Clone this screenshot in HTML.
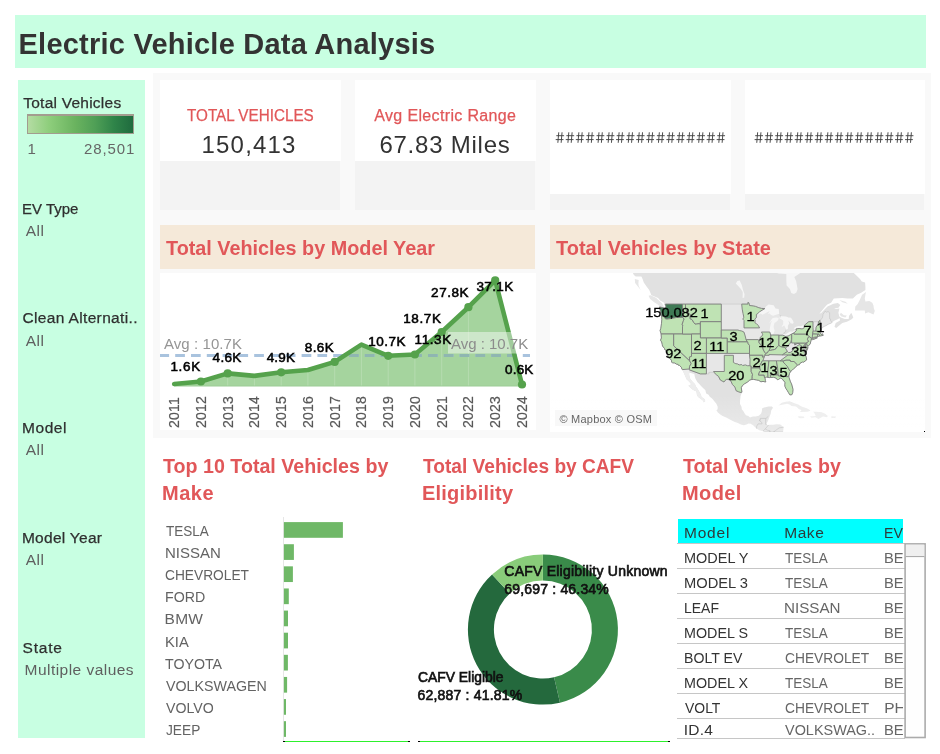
<!DOCTYPE html>
<html><head><meta charset="utf-8"><title>Electric Vehicle Data Analysis</title>
<style>
html,body{margin:0;padding:0;background:#fff;}
body{width:940px;height:754px;position:relative;overflow:hidden;font-family:"Liberation Sans",sans-serif;}
.t{position:absolute;white-space:pre;font-family:"Liberation Sans",sans-serif;}
.b{position:absolute;}
svg{position:absolute;overflow:hidden;}
svg text{font-family:"Liberation Sans",sans-serif;}
</style></head><body><div id="root" style="position:absolute;left:0;top:0;width:940px;height:754px;will-change:transform;">
<div class="b" style="left:15px;top:15px;width:911px;height:52.5px;background:#c8ffe2;"></div>
<div class="t" style="left:18.56px;top:30.00px;font-size:29px;line-height:29px;color:#333;font-weight:bold;letter-spacing:0.229px;">Electric Vehicle Data Analysis</div>
<div class="b" style="left:18px;top:80px;width:127px;height:658px;background:#c8ffe2;"></div>
<div class="t" style="left:23.25px;top:95.00px;font-size:15.5px;line-height:16px;color:#2f2f2f;letter-spacing:0.241px;-webkit-text-stroke:0.25px #2f2f2f;">Total Vehicles</div>
<div class="b" style="left:27px;top:114px;width:105px;height:17px;border:1px solid #a39c8f;border-top-width:2px;background:linear-gradient(90deg,#b4dca3 0%,#8ece7c 20%,#6ab35f 45%,#4f9f56 64%,#2f8449 82%,#1f6b3e 100%);"></div>
<div class="t" style="left:27.46px;top:141.00px;font-size:15px;line-height:15px;color:#666;">1</div>
<div class="t" style="left:83.95px;top:141.00px;font-size:15px;line-height:15px;color:#666;letter-spacing:0.882px;">28,501</div>
<div class="t" style="left:21.97px;top:201.00px;font-size:15.5px;line-height:16px;color:#2f2f2f;-webkit-text-stroke:0.25px #2f2f2f;transform:scaleX(0.9672);transform-origin:0 0;">EV Type</div>
<div class="t" style="left:25.77px;top:223.00px;font-size:15.5px;line-height:16px;color:#5f5f5f;letter-spacing:0.421px;">All</div>
<div class="t" style="left:22.41px;top:310.00px;font-size:15.5px;line-height:16px;color:#2f2f2f;letter-spacing:0.355px;-webkit-text-stroke:0.25px #2f2f2f;">Clean Alternati..</div>
<div class="t" style="left:25.77px;top:333.00px;font-size:15.5px;line-height:16px;color:#5f5f5f;letter-spacing:0.421px;">All</div>
<div class="t" style="left:21.93px;top:420.00px;font-size:15.5px;line-height:16px;color:#2f2f2f;letter-spacing:0.598px;-webkit-text-stroke:0.25px #2f2f2f;">Model</div>
<div class="t" style="left:25.77px;top:442.00px;font-size:15.5px;line-height:16px;color:#5f5f5f;letter-spacing:0.421px;">All</div>
<div class="t" style="left:21.93px;top:530.00px;font-size:15.5px;line-height:16px;color:#2f2f2f;letter-spacing:0.274px;-webkit-text-stroke:0.25px #2f2f2f;">Model Year</div>
<div class="t" style="left:25.77px;top:552.00px;font-size:15.5px;line-height:16px;color:#5f5f5f;letter-spacing:0.421px;">All</div>
<div class="t" style="left:22.50px;top:640.00px;font-size:15.5px;line-height:16px;color:#2f2f2f;letter-spacing:0.800px;-webkit-text-stroke:0.25px #2f2f2f;">State</div>
<div class="t" style="left:24.53px;top:662.00px;font-size:15.5px;line-height:16px;color:#5f5f5f;letter-spacing:0.465px;">Multiple values</div>
<div class="b" style="left:153px;top:73px;width:778px;height:365px;background:#f9f9f9;"></div>
<div class="b" style="left:160px;top:80px;width:181px;height:81px;background:#fff;"></div>
<div class="b" style="left:160px;top:161px;width:180px;height:49px;background:#f3f3f3;"></div>
<div class="b" style="left:355px;top:80px;width:181px;height:81px;background:#fff;"></div>
<div class="b" style="left:355px;top:161px;width:180px;height:49px;background:#f3f3f3;"></div>
<div class="b" style="left:550px;top:80px;width:181px;height:114px;background:#fff;"></div>
<div class="b" style="left:550px;top:194px;width:180px;height:16px;background:#f3f3f3;"></div>
<div class="b" style="left:745px;top:80px;width:180px;height:114px;background:#fff;"></div>
<div class="b" style="left:745px;top:194px;width:179px;height:16px;background:#f3f3f3;"></div>
<div class="t" style="left:186.86px;top:108.00px;font-size:16px;line-height:16px;color:#e15759;-webkit-text-stroke:0.25px #e15759;transform:scaleX(0.9524);transform-origin:0 0;">TOTAL VEHICLES</div>
<div class="t" style="left:201.47px;top:133.00px;font-size:24px;line-height:24px;color:#333;letter-spacing:1.205px;">150,413</div>
<div class="t" style="left:374.27px;top:108.00px;font-size:16px;line-height:16px;color:#e15759;letter-spacing:0.351px;-webkit-text-stroke:0.25px #e15759;">Avg Electric Range</div>
<div class="t" style="left:379.38px;top:133.00px;font-size:24px;line-height:24px;color:#333;letter-spacing:0.765px;">67.83 Miles</div>
<svg style="left:550px;top:128px" width="376" height="20" viewBox="550 128 376 20"><g stroke="#444" stroke-width="0.95" fill="none"><path d="M558.75 132.3L557.85 142.8M562.05 132.3L561.15 142.8M556.30 135.7H564.10M555.70 139.6H563.50"/><path d="M568.81 132.3L567.91 142.8M572.11 132.3L571.21 142.8M566.36 135.7H574.16M565.76 139.6H573.56"/><path d="M578.87 132.3L577.97 142.8M582.17 132.3L581.27 142.8M576.42 135.7H584.22M575.82 139.6H583.62"/><path d="M588.93 132.3L588.03 142.8M592.23 132.3L591.33 142.8M586.48 135.7H594.28M585.88 139.6H593.68"/><path d="M598.99 132.3L598.09 142.8M602.29 132.3L601.39 142.8M596.54 135.7H604.34M595.94 139.6H603.74"/><path d="M609.05 132.3L608.15 142.8M612.35 132.3L611.45 142.8M606.60 135.7H614.40M606.00 139.6H613.80"/><path d="M619.11 132.3L618.21 142.8M622.41 132.3L621.51 142.8M616.66 135.7H624.46M616.06 139.6H623.86"/><path d="M629.17 132.3L628.27 142.8M632.47 132.3L631.57 142.8M626.72 135.7H634.52M626.12 139.6H633.92"/><path d="M639.23 132.3L638.33 142.8M642.53 132.3L641.63 142.8M636.78 135.7H644.58M636.18 139.6H643.98"/><path d="M649.29 132.3L648.39 142.8M652.59 132.3L651.69 142.8M646.84 135.7H654.64M646.24 139.6H654.04"/><path d="M659.35 132.3L658.45 142.8M662.65 132.3L661.75 142.8M656.90 135.7H664.70M656.30 139.6H664.10"/><path d="M669.41 132.3L668.51 142.8M672.71 132.3L671.81 142.8M666.96 135.7H674.76M666.36 139.6H674.16"/><path d="M679.47 132.3L678.57 142.8M682.77 132.3L681.87 142.8M677.02 135.7H684.82M676.42 139.6H684.22"/><path d="M689.53 132.3L688.63 142.8M692.83 132.3L691.93 142.8M687.08 135.7H694.88M686.48 139.6H694.28"/><path d="M699.59 132.3L698.69 142.8M702.89 132.3L701.99 142.8M697.14 135.7H704.94M696.54 139.6H704.34"/><path d="M709.65 132.3L708.75 142.8M712.95 132.3L712.05 142.8M707.20 135.7H715.00M706.60 139.6H714.40"/><path d="M719.71 132.3L718.81 142.8M723.01 132.3L722.11 142.8M717.26 135.7H725.06M716.66 139.6H724.46"/></g></svg>
<svg style="left:550px;top:128px" width="376" height="20" viewBox="550 128 376 20"><g stroke="#444" stroke-width="0.95" fill="none"><path d="M757.65 132.3L756.75 142.8M760.95 132.3L760.05 142.8M755.20 135.7H763.00M754.60 139.6H762.40"/><path d="M767.68 132.3L766.78 142.8M770.98 132.3L770.08 142.8M765.23 135.7H773.03M764.63 139.6H772.43"/><path d="M777.71 132.3L776.81 142.8M781.01 132.3L780.11 142.8M775.26 135.7H783.06M774.66 139.6H782.46"/><path d="M787.74 132.3L786.84 142.8M791.04 132.3L790.14 142.8M785.29 135.7H793.09M784.69 139.6H792.49"/><path d="M797.77 132.3L796.87 142.8M801.07 132.3L800.17 142.8M795.32 135.7H803.12M794.72 139.6H802.52"/><path d="M807.80 132.3L806.90 142.8M811.10 132.3L810.20 142.8M805.35 135.7H813.15M804.75 139.6H812.55"/><path d="M817.83 132.3L816.93 142.8M821.13 132.3L820.23 142.8M815.38 135.7H823.18M814.78 139.6H822.58"/><path d="M827.86 132.3L826.96 142.8M831.16 132.3L830.26 142.8M825.41 135.7H833.21M824.81 139.6H832.61"/><path d="M837.89 132.3L836.99 142.8M841.19 132.3L840.29 142.8M835.44 135.7H843.24M834.84 139.6H842.64"/><path d="M847.92 132.3L847.02 142.8M851.22 132.3L850.32 142.8M845.47 135.7H853.27M844.87 139.6H852.67"/><path d="M857.95 132.3L857.05 142.8M861.25 132.3L860.35 142.8M855.50 135.7H863.30M854.90 139.6H862.70"/><path d="M867.98 132.3L867.08 142.8M871.28 132.3L870.38 142.8M865.53 135.7H873.33M864.93 139.6H872.73"/><path d="M878.01 132.3L877.11 142.8M881.31 132.3L880.41 142.8M875.56 135.7H883.36M874.96 139.6H882.76"/><path d="M888.04 132.3L887.14 142.8M891.34 132.3L890.44 142.8M885.59 135.7H893.39M884.99 139.6H892.79"/><path d="M898.07 132.3L897.17 142.8M901.37 132.3L900.47 142.8M895.62 135.7H903.42M895.02 139.6H902.82"/><path d="M908.10 132.3L907.20 142.8M911.40 132.3L910.50 142.8M905.65 135.7H913.45M905.05 139.6H912.85"/></g></svg>
<div class="b" style="left:160px;top:225px;width:375px;height:44px;background:#f5e9d9;"></div>
<div class="b" style="left:550px;top:225px;width:374px;height:44px;background:#f5e9d9;"></div>
<div class="t" style="left:165.58px;top:238.00px;font-size:20px;line-height:20px;color:#e15759;font-weight:bold;transform:scaleX(0.9902);transform-origin:0 0;">Total Vehicles by Model Year</div>
<div class="t" style="left:555.58px;top:238.00px;font-size:20px;line-height:20px;color:#e15759;font-weight:bold;transform:scaleX(0.9983);transform-origin:0 0;">Total Vehicles by State</div>
<div class="b" style="left:160px;top:273px;width:375.5px;height:157px;background:#fff;"></div>
<svg style="left:160px;top:273px" width="375.5" height="157" viewBox="160 273 375.5 157">
<polygon points="174.2,384.0 200.9,381.5 227.7,373.4 254.4,375.9 281.2,372.3 307.9,370.0 334.7,361.9 361.4,344.6 388.2,355.8 414.9,354.5 441.7,332.0 468.4,307.2 495.2,280.3 522.0,384.5 522.0,386.0 174.2,386.0" fill="#a5d49e"/>
<line x1="200.9" y1="274" x2="200.9" y2="386.0" stroke="#fff" stroke-opacity="0.28" stroke-width="0.7"/>
<line x1="227.7" y1="274" x2="227.7" y2="386.0" stroke="#fff" stroke-opacity="0.28" stroke-width="0.7"/>
<line x1="254.4" y1="274" x2="254.4" y2="386.0" stroke="#fff" stroke-opacity="0.28" stroke-width="0.7"/>
<line x1="281.2" y1="274" x2="281.2" y2="386.0" stroke="#fff" stroke-opacity="0.28" stroke-width="0.7"/>
<line x1="307.9" y1="274" x2="307.9" y2="386.0" stroke="#fff" stroke-opacity="0.28" stroke-width="0.7"/>
<line x1="334.7" y1="274" x2="334.7" y2="386.0" stroke="#fff" stroke-opacity="0.28" stroke-width="0.7"/>
<line x1="361.4" y1="274" x2="361.4" y2="386.0" stroke="#fff" stroke-opacity="0.28" stroke-width="0.7"/>
<line x1="388.2" y1="274" x2="388.2" y2="386.0" stroke="#fff" stroke-opacity="0.28" stroke-width="0.7"/>
<line x1="414.9" y1="274" x2="414.9" y2="386.0" stroke="#fff" stroke-opacity="0.28" stroke-width="0.7"/>
<line x1="441.7" y1="274" x2="441.7" y2="386.0" stroke="#fff" stroke-opacity="0.28" stroke-width="0.7"/>
<line x1="468.4" y1="274" x2="468.4" y2="386.0" stroke="#fff" stroke-opacity="0.28" stroke-width="0.7"/>
<line x1="160" y1="355.4" x2="530" y2="355.4" stroke="#a9c3de" stroke-width="3" stroke-dasharray="9.7,6.1" stroke-dashoffset="0.6"/>
<clipPath id="ac"><polygon points="174.2,384.0 200.9,381.5 227.7,373.4 254.4,375.9 281.2,372.3 307.9,370.0 334.7,361.9 361.4,344.6 388.2,355.8 414.9,354.5 441.7,332.0 468.4,307.2 495.2,280.3 522.0,384.5 522.0,386.0 174.2,386.0"/></clipPath>
<line clip-path="url(#ac)" x1="160" y1="355.4" x2="530" y2="355.4" stroke="#8fb6b1" stroke-width="3" stroke-dasharray="9.7,6.1" stroke-dashoffset="0.6"/>
<line x1="174.2" y1="386.0" x2="522.0" y2="386.0" stroke="#9ccc96" stroke-width="1"/>
<polyline points="174.2,384.0 200.9,381.5 227.7,373.4 254.4,375.9 281.2,372.3 307.9,370.0 334.7,361.9 361.4,344.6 388.2,355.8 414.9,354.5 441.7,332.0 468.4,307.2 495.2,280.3 522.0,384.5" fill="none" stroke="#55a24c" stroke-width="4.6" stroke-linejoin="round" stroke-linecap="round"/>
<circle cx="200.9" cy="381.5" r="4.1" fill="#55a24c"/>
<circle cx="227.7" cy="373.4" r="4.1" fill="#55a24c"/>
<circle cx="281.2" cy="372.3" r="4.1" fill="#55a24c"/>
<circle cx="334.7" cy="361.9" r="4.1" fill="#55a24c"/>
<circle cx="388.2" cy="355.8" r="4.1" fill="#55a24c"/>
<circle cx="414.9" cy="354.5" r="4.1" fill="#55a24c"/>
<circle cx="441.7" cy="332.0" r="4.1" fill="#55a24c"/>
<circle cx="468.4" cy="307.2" r="4.1" fill="#55a24c"/>
<circle cx="495.2" cy="280.3" r="4.1" fill="#55a24c"/>
<circle cx="522.0" cy="384.5" r="4.1" fill="#55a24c"/>
<rect x="448" y="332" width="82" height="21.5" fill="#fff" fill-opacity="0.45"/>
</svg>
<div class="t" style="left:163.97px;top:336.00px;font-size:15px;line-height:15px;color:#959595;letter-spacing:0.072px;">Avg : 10.7K</div>
<div class="t" style="left:450.97px;top:336.00px;font-size:15px;line-height:15px;color:#8c8c8c;transform:scaleX(0.9990);transform-origin:0 0;">Avg : 10.7K</div>
<div class="t" style="left:170.47px;top:360.00px;font-size:13.5px;line-height:14px;color:#000;letter-spacing:0.636px;-webkit-text-stroke:0.55px #000;">1.6K</div>
<div class="t" style="left:212.59px;top:351.00px;font-size:13.5px;line-height:14px;color:#000;letter-spacing:0.297px;-webkit-text-stroke:0.55px #000;">4.6K</div>
<div class="t" style="left:266.69px;top:351.00px;font-size:13.5px;line-height:14px;color:#000;letter-spacing:0.163px;-webkit-text-stroke:0.55px #000;">4.9K</div>
<div class="t" style="left:304.81px;top:341.00px;font-size:13.5px;line-height:14px;color:#000;letter-spacing:0.356px;-webkit-text-stroke:0.55px #000;">8.6K</div>
<div class="t" style="left:368.27px;top:335.00px;font-size:13.5px;line-height:14px;color:#000;letter-spacing:0.500px;-webkit-text-stroke:0.55px #000;">10.7K</div>
<div class="t" style="left:414.57px;top:333.00px;font-size:13.5px;line-height:14px;color:#000;letter-spacing:0.576px;-webkit-text-stroke:0.55px #000;">11.3K</div>
<div class="t" style="left:403.27px;top:312.00px;font-size:13.5px;line-height:14px;color:#000;letter-spacing:0.600px;-webkit-text-stroke:0.55px #000;">18.7K</div>
<div class="t" style="left:431.12px;top:286.00px;font-size:13.5px;line-height:14px;color:#000;letter-spacing:0.513px;-webkit-text-stroke:0.55px #000;">27.8K</div>
<div class="t" style="left:476.39px;top:280.00px;font-size:13.5px;line-height:14px;color:#000;letter-spacing:0.372px;-webkit-text-stroke:0.55px #000;">37.1K</div>
<div class="t" style="left:504.97px;top:363.00px;font-size:13.5px;line-height:14px;color:#000;letter-spacing:0.203px;-webkit-text-stroke:0.55px #000;">0.6K</div>
<div class="t" style="left:167.2px;top:428.2px;font-size:14px;line-height:14px;color:#585858;-webkit-text-stroke:0.2px #585858;transform-origin:0 0;transform:rotate(-90deg);letter-spacing:0.25px;">2011</div>
<div class="t" style="left:193.9px;top:428.2px;font-size:14px;line-height:14px;color:#585858;-webkit-text-stroke:0.2px #585858;transform-origin:0 0;transform:rotate(-90deg);letter-spacing:0.25px;">2012</div>
<div class="t" style="left:220.7px;top:428.2px;font-size:14px;line-height:14px;color:#585858;-webkit-text-stroke:0.2px #585858;transform-origin:0 0;transform:rotate(-90deg);letter-spacing:0.25px;">2013</div>
<div class="t" style="left:247.4px;top:428.2px;font-size:14px;line-height:14px;color:#585858;-webkit-text-stroke:0.2px #585858;transform-origin:0 0;transform:rotate(-90deg);letter-spacing:0.25px;">2014</div>
<div class="t" style="left:274.2px;top:428.2px;font-size:14px;line-height:14px;color:#585858;-webkit-text-stroke:0.2px #585858;transform-origin:0 0;transform:rotate(-90deg);letter-spacing:0.25px;">2015</div>
<div class="t" style="left:300.9px;top:428.2px;font-size:14px;line-height:14px;color:#585858;-webkit-text-stroke:0.2px #585858;transform-origin:0 0;transform:rotate(-90deg);letter-spacing:0.25px;">2016</div>
<div class="t" style="left:327.7px;top:428.2px;font-size:14px;line-height:14px;color:#585858;-webkit-text-stroke:0.2px #585858;transform-origin:0 0;transform:rotate(-90deg);letter-spacing:0.25px;">2017</div>
<div class="t" style="left:354.4px;top:428.2px;font-size:14px;line-height:14px;color:#585858;-webkit-text-stroke:0.2px #585858;transform-origin:0 0;transform:rotate(-90deg);letter-spacing:0.25px;">2018</div>
<div class="t" style="left:381.2px;top:428.2px;font-size:14px;line-height:14px;color:#585858;-webkit-text-stroke:0.2px #585858;transform-origin:0 0;transform:rotate(-90deg);letter-spacing:0.25px;">2019</div>
<div class="t" style="left:407.9px;top:428.2px;font-size:14px;line-height:14px;color:#585858;-webkit-text-stroke:0.2px #585858;transform-origin:0 0;transform:rotate(-90deg);letter-spacing:0.25px;">2020</div>
<div class="t" style="left:434.7px;top:428.2px;font-size:14px;line-height:14px;color:#585858;-webkit-text-stroke:0.2px #585858;transform-origin:0 0;transform:rotate(-90deg);letter-spacing:0.25px;">2021</div>
<div class="t" style="left:461.4px;top:428.2px;font-size:14px;line-height:14px;color:#585858;-webkit-text-stroke:0.2px #585858;transform-origin:0 0;transform:rotate(-90deg);letter-spacing:0.25px;">2022</div>
<div class="t" style="left:488.2px;top:428.2px;font-size:14px;line-height:14px;color:#585858;-webkit-text-stroke:0.2px #585858;transform-origin:0 0;transform:rotate(-90deg);letter-spacing:0.25px;">2023</div>
<div class="t" style="left:515.0px;top:428.2px;font-size:14px;line-height:14px;color:#585858;-webkit-text-stroke:0.2px #585858;transform-origin:0 0;transform:rotate(-90deg);letter-spacing:0.25px;">2024</div>
<div class="b" style="left:550px;top:273px;width:375px;height:159px;background:#fff;"></div><div class="b" style="left:924px;top:431px;width:1.2px;height:1.2px;background:#000;"></div>
<svg style="left:550px;top:273px" width="375" height="159" viewBox="550 273 375 159">
<defs><linearGradient id="fade" x1="0" y1="0" x2="0" y2="1"><stop offset="0" stop-color="#fff" stop-opacity="0"/><stop offset="1" stop-color="#fff" stop-opacity="0.3"/></linearGradient><filter id="bl" x="-5%" y="-5%" width="110%" height="110%"><feGaussianBlur stdDeviation="0.55"/></filter></defs>
<g filter="url(#bl)">
<path d="M622.9 258.7L625.9 264.3L631.2 269.7L633.9 275.0L635.7 276.5L641.4 276.5L642.6 279.1L643.8 282.6L646.2 286.1L649.2 290.0L650.7 293.4L651.3 295.3L652.7 295.8L658.1 298.1L660.2 300.5L664.1 302.8L664.5 304.1L665.9 306.4L665.4 308.0L664.1 308.0L659.6 306.9L659.8 309.1L661.3 313.5L661.6 316.2L661.8 319.5L661.5 323.3L660.8 328.3L660.1 330.6L661.1 334.0L661.4 338.0L660.5 340.2L661.6 341.9L662.2 344.3L662.5 346.0L664.5 348.5L664.7 349.6L666.2 350.4L666.2 351.5L667.5 353.6L668.0 354.9L668.0 356.0L669.8 358.4L671.4 360.2L671.7 362.2L672.3 362.8L674.6 363.0L676.6 364.2L678.1 364.4L678.4 365.3L679.3 365.3L681.4 367.3L681.9 369.0L682.3 369.6L683.5 372.2L684.7 375.0L685.6 377.1L686.5 379.2L689.5 381.9L691.3 384.3L688.4 385.8L691.3 388.4L692.8 389.7L696.4 391.4L697.0 395.3L698.2 397.0L702.9 400.6L703.7 402.2L705.2 401.6L705.0 399.6L702.6 397.6L701.7 398.0L701.1 395.3L699.5 392.0L697.7 389.0L696.1 386.7L694.9 384.0L692.8 381.9L690.2 378.8L689.2 375.0L689.2 372.6L691.6 373.3L694.3 374.0L694.9 377.1L695.5 378.8L697.3 381.9L699.3 384.0L700.8 385.7L703.8 388.7L705.3 390.0L706.2 393.4L708.6 394.7L709.8 396.7L712.6 398.9L714.3 401.2L716.4 403.8L717.7 406.7L717.6 409.3L716.4 410.2L717.9 412.5L720.3 414.4L722.6 415.9L726.8 417.8L728.9 419.1L732.8 421.0L734.9 421.9L737.9 423.1L740.9 424.4L743.9 425.2L746.5 424.4L748.6 423.5L750.7 423.8L753.4 425.6L756.4 428.4L759.4 430.3L762.4 430.9L765.7 432.4L768.3 432.7L770.1 433.0L771.3 434.9L774.0 437.9L775.8 441.0L782.1 439.4L782.7 434.9L783.3 430.3L783.6 427.2L780.3 424.5L776.7 424.2L773.1 424.7L769.8 424.7L767.5 425.0L766.4 424.1L768.3 420.3L769.4 416.9L770.7 413.7L771.2 410.6L773.0 407.7L771.9 406.4L768.6 406.6L764.2 407.4L762.2 408.3L761.8 411.5L761.0 413.7L758.8 415.8L755.5 416.4L752.8 416.6L750.1 417.4L748.3 415.9L745.9 415.3L745.0 414.0L743.6 411.5L741.8 409.3L741.5 406.7L740.0 404.1L740.1 400.3L740.6 396.0L741.9 392.2L741.9 392.0L741.3 387.7L742.1 386.0L744.2 384.0L747.1 382.3L748.9 380.9L749.8 380.0L751.8 379.5L753.7 379.4L756.7 380.0L758.8 380.4L760.9 381.8L763.0 381.4L765.1 381.9L765.8 381.9L765.4 380.6L765.1 378.5L764.6 377.8L765.4 377.5L766.6 377.1L768.0 377.3L769.2 377.6L770.7 377.5L773.7 377.3L776.1 378.1L777.3 379.7L778.5 379.5L780.3 378.1L781.2 378.3L782.7 379.5L784.0 381.4L785.1 382.3L784.8 384.6L784.9 386.3L786.0 388.7L787.2 390.4L788.4 392.5L789.9 394.9L791.9 394.7L792.7 392.7L793.0 389.7L792.7 388.0L791.5 383.8L790.5 381.9L789.0 377.5L788.8 376.0L789.6 373.3L790.6 371.4L791.8 370.5L793.4 368.9L795.5 367.3L797.5 364.9L799.3 364.8L800.0 363.3L802.7 361.9L803.6 362.2L806.6 359.9L806.4 357.8L805.5 355.1L805.1 353.8L805.2 353.0L807.3 349.5L807.9 347.9L807.8 346.6L808.2 346.1L810.2 343.9L811.1 340.2L811.1 339.6L812.6 339.6L814.6 339.0L817.3 337.8L816.1 337.4L815.5 337.0L817.5 336.8L818.5 336.4L819.7 336.0L821.1 335.8L823.2 335.4L822.4 333.7L821.5 334.8L821.1 334.0L820.0 332.6L821.2 331.4L820.6 330.5L820.9 329.7L822.4 327.5L824.5 326.3L825.7 325.8L828.4 324.2L830.8 323.3L832.1 322.5L833.5 321.2L834.8 320.5L838.2 319.1L839.4 318.0L840.0 320.0L839.7 320.8L835.7 322.9L834.5 326.7L836.2 328.1L842.3 323.1L846.9 321.7L849.9 320.2L852.0 318.9L853.3 317.4L851.7 313.5L851.1 313.1L849.0 316.1L848.7 318.9L844.8 318.9L842.1 318.0L840.9 317.4L839.3 316.5L838.4 312.8L839.4 308.6L835.9 309.1L834.1 308.4L838.5 307.7L840.3 305.0L837.9 303.0L833.5 303.7L827.5 306.6L824.5 309.5L821.2 313.1L819.4 313.7L821.5 311.3L823.9 308.2L827.2 304.6L831.1 302.8L833.8 298.6L842.4 298.1L847.5 298.6L852.9 298.6L856.8 294.8L861.2 292.7L865.4 290.0L865.4 287.1L865.1 282.6L861.8 281.6L860.0 279.1L855.9 275.0L850.5 269.7L848.4 264.3L845.4 258.7L622.9 258.7Z" fill="#e1e1e1"/>
<path d="M648.6 295.8L650.1 299.1L654.2 302.3L657.8 304.6L659.9 306.4L663.2 307.3L663.8 306.4L662.0 303.2L658.4 300.0L656.0 297.7L650.4 295.3Z" fill="#e6e6e6"/>
<path d="M634.8 279.1L635.1 283.1L639.9 289.1L640.8 290.3L638.7 286.1L638.4 283.6L638.7 279.9Z" fill="#e6e6e6"/>
<path d="M866.0 292.0L862.1 294.8L860.0 299.5L857.7 304.1L855.3 306.4L855.0 310.4L860.3 310.4L864.8 310.4L865.1 313.5L868.4 312.2L873.5 314.6L874.8 310.9L873.8 308.2L873.5 305.5L872.3 302.8L869.3 300.9L865.4 301.4L864.8 298.6L865.4 294.8Z" fill="#e6e6e6"/>
<path d="M846.9 315.5L845.4 317.4L841.5 316.5L839.7 314.8L840.9 312.8L843.9 315.2Z" fill="#e6e6e6"/>
<path d="M839.4 300.0L842.4 302.3L847.8 303.7L845.4 301.8Z" fill="#e6e6e6"/>
<path d="M778.4 405.6L781.8 402.8L785.7 401.7L789.6 401.2L794.6 403.2L798.2 404.5L801.5 406.4L806.0 408.0L808.7 409.3L810.6 410.7L807.5 411.8L800.0 412.0L801.5 409.9L799.1 409.3L796.1 406.4L791.6 405.9L789.6 404.6L787.2 403.8L783.3 404.5Z" fill="#ececec"/>
<path d="M812.9 411.8L817.0 411.8L821.5 412.3L825.1 413.7L827.9 415.9L826.9 417.2L823.0 416.6L818.5 418.9L815.5 417.2L811.7 417.8L809.7 416.6L815.8 415.9L814.0 412.5Z" fill="#ececec"/>
<path d="M798.2 416.3L804.2 416.4L804.2 418.1L800.0 418.3L798.1 417.2Z" fill="#ececec"/>
<path d="M831.4 416.3L836.0 416.6L835.3 418.0L831.4 418.0Z" fill="#ececec"/>
<path d="M664.5 304.1L665.9 306.4L665.4 308.0L664.1 308.0L659.6 306.9L659.8 309.1L661.3 313.5L661.6 316.2L661.8 319.5L661.5 323.3L660.8 328.3L660.1 330.6L661.1 334.0L661.4 338.0L660.5 340.2L661.6 341.9L662.2 344.3L662.5 346.0L664.5 348.5L664.7 349.6L666.2 350.4L666.2 351.5L667.5 353.6L668.0 354.9L668.0 356.0L669.8 358.4L671.4 360.2L671.7 362.2L672.3 362.8L674.6 363.0L676.6 364.2L678.1 364.4L678.4 365.3L679.3 365.3L681.4 367.3L681.9 369.0L682.3 369.6L689.4 369.0L689.2 369.8L700.3 373.9L708.9 373.9L708.9 372.3L713.9 372.3L716.7 375.0L718.5 376.4L720.3 380.0L722.8 381.4L724.0 382.0L724.9 380.6L726.5 379.4L729.2 379.2L730.7 380.7L732.5 384.6L734.9 387.0L736.1 390.7L738.8 391.9L741.2 392.6L741.9 392.2L741.9 392.0L741.3 387.7L742.1 386.0L744.2 384.0L747.1 382.3L748.9 380.9L749.8 380.0L751.8 379.5L753.7 379.4L756.7 380.0L758.8 380.4L760.9 381.8L763.0 381.4L765.1 381.9L765.8 381.9L765.4 380.6L765.1 378.5L764.6 377.8L765.4 377.5L766.6 377.1L768.0 377.3L769.2 377.6L770.7 377.5L773.7 377.3L776.1 378.1L777.3 379.7L778.5 379.5L780.3 378.1L781.2 378.3L782.7 379.5L784.0 381.4L785.1 382.3L784.8 384.6L784.9 386.3L786.0 388.7L787.2 390.4L788.4 392.5L789.9 394.9L791.9 394.7L792.7 392.7L793.0 389.7L792.7 388.0L791.5 383.8L790.5 381.9L789.0 377.5L788.8 376.0L789.6 373.3L790.6 371.4L791.8 370.5L793.4 368.9L795.5 367.3L797.5 364.9L799.3 364.8L800.0 363.3L802.7 361.9L803.6 362.2L806.6 359.9L806.4 357.8L805.5 355.1L805.1 353.8L805.2 353.0L807.3 349.5L807.9 347.9L807.8 346.6L808.2 346.1L810.2 343.9L811.1 340.2L811.1 339.6L812.6 339.6L814.6 339.0L817.3 337.8L816.1 337.4L815.5 337.0L817.5 336.8L818.5 336.4L819.7 336.0L821.1 335.8L823.2 335.4L822.4 333.7L821.5 334.8L821.1 334.0L820.0 332.6L821.2 331.4L820.6 330.5L820.9 329.7L822.4 327.5L824.5 326.3L825.7 325.8L828.4 324.2L830.8 323.3L832.1 322.5L830.6 320.8L830.6 319.1L829.6 318.7L829.6 312.8L828.1 311.5L826.3 312.2L825.2 311.1L823.0 314.4L822.9 315.7L822.3 317.8L820.6 320.0L819.7 320.4L818.5 321.7L808.8 321.7L805.4 324.4L803.9 325.4L802.7 327.4L797.0 327.4L796.0 328.9L796.4 330.6L794.0 331.8L791.6 332.8L786.0 335.3L783.9 334.2L783.9 332.8L785.7 331.6L785.9 330.0L786.7 327.5L785.7 320.4L782.4 318.3L782.8 317.0L780.9 316.1L779.7 315.2L778.7 313.5L773.7 311.7L768.0 307.3L764.8 308.6L761.5 308.4L758.8 307.7L755.5 306.4L753.1 305.9L749.5 305.5L748.9 302.8L747.9 302.4L747.9 304.1Z" fill="#e7e7e7" stroke="#bdbdbd" stroke-width="0.5"/>
<path d="M757.0 314.2L759.7 311.7L764.8 308.6L765.7 306.8L768.6 304.4L773.7 305.3L775.5 308.6L778.7 309.1L779.1 313.1L779.7 315.2L778.4 314.1L776.7 314.6L773.3 315.7L771.0 315.0L769.8 313.5L768.0 313.9L769.8 311.1L767.2 312.2L764.5 313.7L762.1 314.8L760.9 313.5L758.5 314.4Z" fill="#f6f6f6"/>
<path d="M779.0 318.0L776.7 317.6L774.0 317.8L772.1 318.5L770.4 321.2L769.2 323.6L772.4 320.4L770.9 323.3L770.1 326.9L769.6 330.0L769.8 332.0L770.7 335.0L771.6 335.5L772.8 335.0L773.7 333.6L774.6 330.8L773.7 327.5L773.7 325.8L774.5 322.9L776.4 321.7L778.2 320.0L778.4 318.5Z" fill="#f6f6f6"/>
<path d="M779.0 318.0L780.6 319.1L782.8 320.2L783.3 321.4L783.1 324.6L782.1 325.8L781.6 327.3L783.3 326.1L784.3 325.6L785.7 328.3L785.9 330.0L787.9 328.7L787.9 325.8L789.3 323.3L788.2 320.6L789.9 321.9L790.5 323.3L792.8 323.8L793.7 322.5L792.8 320.4L791.0 317.8L788.4 317.4L786.0 316.5L782.7 316.3L780.9 316.1L781.2 317.4L779.1 317.6Z" fill="#f6f6f6"/>
<path d="M782.8 335.2L785.7 336.4L788.1 336.0L791.6 334.1L793.9 332.9L796.4 330.6L794.6 330.6L792.2 331.8L790.2 331.4L787.5 333.0L785.7 334.2L783.9 334.0Z" fill="#f6f6f6"/>
<path d="M796.0 328.9L799.1 328.5L802.1 328.9L804.2 327.9L804.2 325.8L803.6 325.0L800.6 326.3L798.2 326.1L794.9 327.3L793.7 328.9L795.5 329.1Z" fill="#f6f6f6"/>
<path d="M737.3 280.9L739.7 280.6L741.8 285.1L743.0 290.0L744.5 293.9L744.2 297.7L742.5 297.7L742.7 294.8L742.7 292.0L740.9 289.1L738.2 286.1L735.8 283.6Z" fill="#f6f6f6"/>
<path d="M802.1 258.7L803.3 268.6L800.3 272.9L794.3 277.0L796.1 281.1L797.6 289.1L796.4 292.4L794.0 293.9L791.3 292.9L789.9 289.1L786.6 285.6L786.3 280.1L786.3 273.9L778.2 273.4L770.7 269.7L756.1 264.3L754.3 258.7Z" fill="#f6f6f6"/>
<path d="M682.3 369.6L683.5 372.2L684.7 375.0L685.6 377.1L686.5 379.2L689.5 381.9L691.3 384.3L688.4 385.8L691.3 388.4L692.8 389.7L696.4 391.4L697.0 395.3L698.2 397.0L702.9 400.6L703.7 402.2L705.2 401.6L705.0 399.6L702.6 397.6L701.7 398.0L701.1 395.3L699.5 392.0L697.7 389.0L696.1 386.7L694.9 384.0L692.8 381.9L690.2 378.8L689.2 375.0L689.2 372.6L689.4 369.0Z" fill="#ededed"/>
<path d="M756.6 428.6L756.7 426.2L758.0 423.9L761.9 423.9L762.1 422.8L759.0 420.2L760.3 420.2L760.3 418.4L765.8 418.4L766.7 417.8L768.3 416.3" fill="none" stroke="#b0b0b0" stroke-width="0.6"/>
<path d="M765.8 418.4L765.6 424.4L766.6 424.4" fill="none" stroke="#b0b0b0" stroke-width="0.6"/>
<path d="M768.5 425.0L765.2 429.0L763.0 431.0" fill="none" stroke="#b0b0b0" stroke-width="0.6"/>
<path d="M765.2 429.0L767.7 430.3L770.0 430.7L769.8 432.1" fill="none" stroke="#b0b0b0" stroke-width="0.6"/>
<path d="M771.3 433.3L773.1 432.4L774.9 430.9L775.8 430.3L779.1 427.9L783.6 427.2" fill="none" stroke="#b0b0b0" stroke-width="0.6"/>
<rect x="550" y="395" width="375" height="36" fill="url(#fade)"/>
</g>
<path d="M665.4 304.1L665.9 306.4L665.4 308.0L664.1 308.0L659.6 306.9L659.8 309.1L661.3 313.5L661.6 316.2L664.1 316.8L665.4 318.9L667.1 319.1L670.1 318.7L675.5 317.7L676.7 317.4L682.9 317.4L682.5 315.6L682.5 304.1Z" fill="#3f7a55" stroke="#7d7d7d" stroke-width="0.9" stroke-linejoin="round"/>
<path d="M661.6 316.2L664.1 316.8L665.4 318.9L667.1 319.1L670.1 318.7L675.5 317.7L676.7 317.4L682.9 317.4L684.1 319.1L683.5 320.4L683.1 321.7L682.0 324.6L682.9 325.2L682.5 326.7L682.5 334.0L661.1 334.0L660.1 330.6L660.8 328.3L661.5 323.3L661.8 319.5Z" fill="#bfe3b4" stroke="#7d7d7d" stroke-width="0.9" stroke-linejoin="round"/>
<path d="M661.1 334.0L673.7 334.0L673.7 345.8L689.7 360.8L691.2 363.5L689.5 366.6L689.4 369.0L682.3 369.6L681.9 369.0L681.4 367.3L679.3 365.3L678.4 365.3L678.1 364.4L676.6 364.2L674.6 363.0L672.3 362.8L671.7 362.2L671.4 360.2L669.8 358.4L668.0 356.0L668.0 354.9L667.5 353.6L666.2 351.5L666.2 350.4L664.7 349.6L664.5 348.5L662.5 346.0L662.2 344.3L661.6 341.9L660.5 340.2L661.4 338.0Z" fill="#bfe3b4" stroke="#7d7d7d" stroke-width="0.9" stroke-linejoin="round"/>
<path d="M673.7 334.0L691.5 334.0L691.5 356.4L689.4 357.1L689.7 360.8L673.7 345.8Z" fill="#bfe3b4" stroke="#7d7d7d" stroke-width="0.9" stroke-linejoin="round"/>
<path d="M682.5 304.1L685.5 304.1L685.5 308.7L686.5 310.0L686.4 311.3L687.7 312.0L688.7 313.3L690.5 314.6L690.2 316.5L690.1 318.7L691.6 319.3L692.2 319.8L693.8 322.5L695.0 324.0L696.5 323.8L699.0 323.6L700.4 323.9L700.4 334.0L682.5 334.0L682.5 326.7L682.9 325.2L682.0 324.6L683.1 321.7L683.5 320.4L684.1 319.1L682.9 317.4L682.5 315.6Z" fill="#bfe3b4" stroke="#7d7d7d" stroke-width="0.9" stroke-linejoin="round"/>
<path d="M685.5 304.1L685.5 308.7L686.5 310.0L686.4 311.3L687.7 312.0L688.7 313.3L690.5 314.6L690.2 316.5L690.1 318.7L691.6 319.3L692.2 319.8L693.8 322.5L695.0 324.0L696.5 323.8L699.0 323.6L700.4 323.9L700.4 321.7L721.3 321.7L721.3 304.1Z" fill="#bfe3b4" stroke="#7d7d7d" stroke-width="0.9" stroke-linejoin="round"/>
<path d="M700.4 321.7L721.3 321.7L721.3 338.0L700.4 338.0Z" fill="#bfe3b4" stroke="#7d7d7d" stroke-width="0.9" stroke-linejoin="round"/>
<path d="M706.4 338.0L727.3 338.0L727.3 353.4L706.4 353.4Z" fill="#bfe3b4" stroke="#7d7d7d" stroke-width="0.9" stroke-linejoin="round"/>
<path d="M691.5 334.0L700.4 334.0L700.4 338.0L706.4 338.0L706.4 353.4L691.5 353.4Z" fill="#bfe3b4" stroke="#7d7d7d" stroke-width="0.9" stroke-linejoin="round"/>
<path d="M691.5 353.4L706.4 353.4L706.4 373.9L700.3 373.9L689.2 369.8L689.4 369.0L689.5 366.6L691.2 363.5L689.7 360.8L689.4 357.1L691.5 356.4Z" fill="#bfe3b4" stroke="#7d7d7d" stroke-width="0.9" stroke-linejoin="round"/>
<path d="M721.3 330.0L737.9 330.0L739.7 330.6L741.8 331.0L743.9 332.0L744.6 334.0L745.2 336.0L745.7 338.0L746.1 339.6L747.4 341.9L727.3 341.9L727.3 338.0L721.3 338.0Z" fill="#bfe3b4" stroke="#7d7d7d" stroke-width="0.9" stroke-linejoin="round"/>
<path d="M727.3 341.9L747.4 341.9L748.0 342.3L748.2 343.7L749.5 345.4L749.5 353.4L727.3 353.4Z" fill="#bfe3b4" stroke="#7d7d7d" stroke-width="0.9" stroke-linejoin="round"/>
<path d="M724.3 355.3L733.4 355.3L733.4 362.4L734.6 363.1L735.8 363.7L737.6 363.9L739.1 364.9L741.8 364.6L742.7 365.5L745.3 364.9L747.4 365.7L749.9 365.7L751.2 366.0L751.2 367.9L751.2 371.5L752.5 374.3L752.2 376.8L752.2 378.3L751.8 379.5L749.8 380.0L748.9 380.9L747.1 382.3L744.2 384.0L742.1 386.0L741.3 387.7L741.9 392.0L741.9 392.2L741.2 392.6L738.8 391.9L736.1 390.7L734.9 387.0L732.5 384.6L730.7 380.7L729.2 379.2L726.5 379.4L724.9 380.6L724.0 382.0L722.8 381.4L720.3 380.0L718.5 376.4L716.7 375.0L713.9 372.3L713.6 371.5L724.3 371.5Z" fill="#bfe3b4" stroke="#7d7d7d" stroke-width="0.9" stroke-linejoin="round"/>
<path d="M741.7 304.1L747.9 304.1L747.9 302.4L748.9 302.8L749.5 305.5L753.1 305.9L755.5 306.4L758.8 307.7L761.5 308.4L764.8 308.6L759.7 311.7L757.0 314.2L756.4 314.4L756.4 317.6L754.7 319.1L755.2 320.4L754.9 322.7L756.4 323.6L758.2 325.4L759.6 327.9L744.0 327.9L744.0 320.4L742.8 319.1L743.7 317.6L743.6 316.1L743.0 313.5L742.2 309.1Z" fill="#bfe3b4" stroke="#7d7d7d" stroke-width="0.9" stroke-linejoin="round"/>
<path d="M746.1 339.6L758.1 339.6L759.0 340.4L759.0 342.3L760.3 344.3L761.8 346.2L762.8 346.4L762.7 347.2L763.4 350.0L764.8 352.3L765.8 353.4L764.8 355.3L764.2 357.1L762.2 357.1L762.8 355.3L749.5 355.3L749.5 345.4L748.2 343.7L748.0 342.3L747.4 341.9Z" fill="#bfe3b4" stroke="#7d7d7d" stroke-width="0.9" stroke-linejoin="round"/>
<path d="M749.5 355.3L762.8 355.3L762.2 357.1L764.2 357.1L763.0 360.4L761.8 361.9L760.6 364.4L759.7 365.8L759.8 368.0L751.2 368.0L751.2 366.0L749.9 365.7L750.0 359.3Z" fill="#bfe3b4" stroke="#7d7d7d" stroke-width="0.9" stroke-linejoin="round"/>
<path d="M751.2 368.0L759.8 368.0L760.6 370.5L759.1 372.9L758.5 375.0L764.1 375.0L764.6 377.8L765.1 378.5L765.4 380.6L765.8 381.9L765.1 381.9L763.0 381.4L760.9 381.8L758.8 380.4L756.7 380.0L753.7 379.4L751.8 379.5L752.2 378.3L752.2 376.8L752.5 374.3L751.2 371.5Z" fill="#bfe3b4" stroke="#7d7d7d" stroke-width="0.9" stroke-linejoin="round"/>
<path d="M762.4 360.8L768.6 360.8L768.9 361.1L767.8 371.9L768.0 377.3L766.6 377.1L765.4 377.5L764.6 377.8L764.1 375.0L758.5 375.0L759.1 372.9L760.6 370.5L759.8 368.0L759.7 365.8L760.6 364.4L761.8 361.9L762.4 360.8Z" fill="#bfe3b4" stroke="#7d7d7d" stroke-width="0.9" stroke-linejoin="round"/>
<path d="M768.6 360.8L776.4 360.8L777.7 368.4L778.2 375.0L770.4 375.0L770.7 377.5L769.2 377.6L768.0 377.3L767.8 371.9L768.9 361.1Z" fill="#bfe3b4" stroke="#7d7d7d" stroke-width="0.9" stroke-linejoin="round"/>
<path d="M778.2 375.0L777.7 368.4L776.4 360.8L783.8 360.8L783.1 361.9L785.4 364.4L787.3 366.3L789.3 369.8L790.6 371.4L789.6 373.3L788.8 376.0L787.2 376.6L787.0 377.2L786.6 376.5L778.6 376.1Z" fill="#bfe3b4" stroke="#7d7d7d" stroke-width="0.9" stroke-linejoin="round"/>
<path d="M770.4 375.0L778.2 375.0L778.6 376.1L786.6 376.5L787.0 377.2L787.2 376.6L788.8 376.0L789.0 377.5L790.5 381.9L791.5 383.8L792.7 388.0L793.0 389.7L792.7 392.7L791.9 394.7L789.9 394.9L788.4 392.5L787.2 390.4L786.0 388.7L784.9 386.3L784.8 384.6L785.1 382.3L784.0 381.4L782.7 379.5L781.2 378.3L780.3 378.1L778.5 379.5L777.3 379.7L776.1 378.1L773.7 377.3L770.7 377.5Z" fill="#bfe3b4" stroke="#7d7d7d" stroke-width="0.9" stroke-linejoin="round"/>
<path d="M783.8 360.8L786.0 360.0L790.0 360.0L790.0 360.6L790.5 360.4L790.7 361.5L794.1 361.5L797.5 364.9L795.5 367.3L793.4 368.9L791.8 370.5L790.6 371.4L789.3 369.8L787.3 366.3L785.4 364.4L783.1 361.9Z" fill="#bfe3b4" stroke="#7d7d7d" stroke-width="0.9" stroke-linejoin="round"/>
<path d="M788.1 354.9L805.5 355.1L806.4 357.8L806.6 359.9L803.6 362.2L802.7 361.9L800.0 363.3L799.3 364.8L797.5 364.9L794.1 361.5L790.7 361.5L790.5 360.4L790.0 360.6L790.0 360.0L786.0 360.0L783.8 360.8L780.2 360.8Z" fill="#bfe3b4" stroke="#7d7d7d" stroke-width="0.9" stroke-linejoin="round"/>
<path d="M782.1 354.9L787.3 351.4L788.5 352.6L790.5 352.3L792.2 351.3L794.2 348.1L795.5 347.3L796.5 346.4L798.1 345.3L799.9 344.6L800.8 345.6L801.8 346.0L801.2 348.3L802.4 348.9L804.4 350.0L804.2 352.3L805.1 353.8L805.5 355.1L788.1 354.9Z" fill="#bfe3b4" stroke="#7d7d7d" stroke-width="0.9" stroke-linejoin="round"/>
<path d="M807.3 349.5L806.1 349.8L805.2 353.0L806.0 351.9Z" fill="#bfe3b4" stroke="#7d7d7d" stroke-width="0.9" stroke-linejoin="round"/>
<path d="M794.7 343.0L805.7 343.0L806.0 347.9L807.9 347.9L807.3 349.5L806.1 349.8L805.1 348.1L804.5 345.8L804.8 344.3L803.6 345.8L803.9 348.1L804.4 350.0L802.4 348.9L801.2 348.3L801.8 346.0L800.8 345.6L799.9 344.6L799.4 343.5L797.9 343.3L796.7 343.9L794.7 345.0Z" fill="#bfe3b4" stroke="#7d7d7d" stroke-width="0.9" stroke-linejoin="round"/>
<path d="M805.7 343.0L806.9 342.6L806.9 344.6L807.8 346.6L807.9 347.9L806.0 347.9Z" fill="#bfe3b4" stroke="#7d7d7d" stroke-width="0.9" stroke-linejoin="round"/>
<path d="M791.6 334.0L793.9 332.9L793.9 334.0L807.0 334.0L809.0 336.6L807.8 338.2L807.5 339.6L808.8 341.3L806.9 342.7L806.9 342.6L805.7 343.0L791.6 343.0Z" fill="#bfe3b4" stroke="#7d7d7d" stroke-width="0.9" stroke-linejoin="round"/>
<path d="M793.9 332.9L796.4 330.6L796.0 328.9L799.1 328.5L802.1 328.9L804.2 327.9L804.2 325.8L805.4 324.4L808.8 321.7L813.0 321.7L813.0 327.5L813.2 331.0L812.6 333.8L812.4 336.8L812.1 338.0L812.0 338.4L814.0 338.2L816.1 337.4L817.3 337.8L814.6 339.0L812.6 339.6L811.1 339.6L811.4 338.0L809.0 336.6L807.0 334.0L793.9 334.0Z" fill="#bfe3b4" stroke="#7d7d7d" stroke-width="0.9" stroke-linejoin="round"/>
<path d="M809.0 336.6L811.4 338.0L811.1 340.2L810.2 343.9L808.2 346.1L806.6 344.1L806.9 342.7L808.8 341.3L807.5 339.6L807.8 338.2Z" fill="#bfe3b4" stroke="#7d7d7d" stroke-width="0.9" stroke-linejoin="round"/>
<path d="M812.6 333.8L817.6 333.9L817.5 336.8L815.5 337.0L813.7 337.4L812.1 338.0L812.4 336.8Z" fill="#bfe3b4" stroke="#7d7d7d" stroke-width="0.9" stroke-linejoin="round"/>
<path d="M817.6 333.9L818.9 333.9L819.7 336.0L818.5 336.4L817.5 336.8Z" fill="#bfe3b4" stroke="#7d7d7d" stroke-width="0.9" stroke-linejoin="round"/>
<path d="M813.2 331.0L815.7 331.1L819.1 331.1L820.6 330.5L821.2 331.4L820.0 332.6L821.1 334.0L821.5 334.8L822.4 333.7L823.2 335.4L821.1 335.8L819.7 336.0L818.9 333.9L817.6 333.9L812.6 333.8Z" fill="#bfe3b4" stroke="#7d7d7d" stroke-width="0.9" stroke-linejoin="round"/>
<path d="M819.7 320.4L818.5 321.7L818.2 324.2L816.1 327.1L815.7 331.1L819.1 331.1L820.6 330.5L820.9 329.7L820.1 327.7L820.0 320.4Z" fill="#bfe3b4" stroke="#7d7d7d" stroke-width="0.9" stroke-linejoin="round"/>
<path d="M791.6 334.1L788.1 336.0L785.7 336.4L782.8 335.2L778.8 335.2L778.7 345.4L780.6 346.6L782.1 347.1L784.2 347.3L785.4 348.0L786.6 347.3L787.8 345.8L789.0 344.3L790.6 343.1L791.3 340.4L791.6 339.4Z" fill="#bfe3b4" stroke="#7d7d7d" stroke-width="0.9" stroke-linejoin="round"/>
<path d="M770.7 335.0L778.8 335.0L778.7 345.4L777.6 346.6L776.9 347.0L776.0 348.7L774.3 349.6L772.2 350.0L770.4 350.4L769.1 350.4L770.0 348.1L770.6 344.5Z" fill="#bfe3b4" stroke="#7d7d7d" stroke-width="0.9" stroke-linejoin="round"/>
<path d="M761.4 332.0L769.8 332.0L770.7 335.0L770.6 344.5L770.0 348.1L769.1 350.4L767.9 351.9L767.5 352.8L765.8 353.4L764.8 352.3L763.4 350.0L762.7 347.2L762.8 346.4L761.8 346.2L760.3 344.3L759.0 342.3L759.0 340.4L760.0 339.4L760.3 337.2L761.8 336.2L762.7 334.8L762.2 333.2L761.4 332.0Z" fill="#bfe3b4" stroke="#7d7d7d" stroke-width="0.9" stroke-linejoin="round"/>
<path d="M764.8 355.3L769.1 355.3L769.0 354.6L782.1 354.9L787.3 351.4L785.4 348.0L784.2 347.3L782.1 347.1L780.6 346.6L778.7 345.4L777.6 346.6L776.9 347.0L776.0 348.7L774.3 349.6L772.2 350.0L770.4 350.4L769.1 350.4L767.9 351.9L767.5 352.8L765.8 353.4Z" fill="#bfe3b4" stroke="#7d7d7d" stroke-width="0.9" stroke-linejoin="round"/>
</svg>
<div class="b" style="left:555px;top:410px;width:101.5px;height:16px;background:rgba(247,247,247,0.85);"></div>
<div class="t" style="left:559.53px;top:414.00px;font-size:11px;line-height:11px;color:#666;letter-spacing:0.215px;">© Mapbox © OSM</div>
<div class="t" style="left:648.40px;top:306.00px;font-size:13px;line-height:13px;color:#000;-webkit-text-stroke:0.3px #000;transform:scaleX(1.12);transform-origin:50% 50%;">150,082</div>
<div class="t" style="left:700.73px;top:307.00px;font-size:13px;line-height:13px;color:#000;-webkit-text-stroke:0.3px #000;transform:scaleX(1.12);transform-origin:50% 50%;">1</div>
<div class="t" style="left:746.88px;top:310.00px;font-size:13px;line-height:13px;color:#000;-webkit-text-stroke:0.3px #000;transform:scaleX(1.12);transform-origin:50% 50%;">1</div>
<div class="t" style="left:730.23px;top:330.00px;font-size:13px;line-height:13px;color:#000;-webkit-text-stroke:0.3px #000;transform:scaleX(1.12);transform-origin:50% 50%;">3</div>
<div class="t" style="left:693.93px;top:339.00px;font-size:13px;line-height:13px;color:#000;-webkit-text-stroke:0.3px #000;transform:scaleX(1.12);transform-origin:50% 50%;">2</div>
<div class="t" style="left:710.30px;top:340.00px;font-size:13px;line-height:13px;color:#000;-webkit-text-stroke:0.3px #000;transform:scaleX(1.12);transform-origin:50% 50%;">11</div>
<div class="t" style="left:666.12px;top:347.00px;font-size:13px;line-height:13px;color:#000;-webkit-text-stroke:0.3px #000;transform:scaleX(1.12);transform-origin:50% 50%;">92</div>
<div class="t" style="left:691.60px;top:357.00px;font-size:13px;line-height:13px;color:#000;-webkit-text-stroke:0.3px #000;transform:scaleX(1.12);transform-origin:50% 50%;">11</div>
<div class="t" style="left:728.62px;top:369.00px;font-size:13px;line-height:13px;color:#000;-webkit-text-stroke:0.3px #000;transform:scaleX(1.12);transform-origin:50% 50%;">20</div>
<div class="t" style="left:758.67px;top:336.00px;font-size:13px;line-height:13px;color:#000;-webkit-text-stroke:0.3px #000;transform:scaleX(1.12);transform-origin:50% 50%;">12</div>
<div class="t" style="left:781.78px;top:335.00px;font-size:13px;line-height:13px;color:#000;-webkit-text-stroke:0.3px #000;transform:scaleX(1.12);transform-origin:50% 50%;">2</div>
<div class="t" style="left:804.23px;top:324.00px;font-size:13px;line-height:13px;color:#000;-webkit-text-stroke:0.3px #000;transform:scaleX(1.12);transform-origin:50% 50%;">7</div>
<div class="t" style="left:816.78px;top:321.00px;font-size:13px;line-height:13px;color:#000;-webkit-text-stroke:0.3px #000;transform:scaleX(1.12);transform-origin:50% 50%;">1</div>
<div class="t" style="left:792.22px;top:345.00px;font-size:13px;line-height:13px;color:#000;-webkit-text-stroke:0.3px #000;transform:scaleX(1.12);transform-origin:50% 50%;">35</div>
<div class="t" style="left:753.13px;top:356.00px;font-size:13px;line-height:13px;color:#000;-webkit-text-stroke:0.3px #000;transform:scaleX(1.12);transform-origin:50% 50%;">2</div>
<div class="t" style="left:760.58px;top:361.00px;font-size:13px;line-height:13px;color:#000;-webkit-text-stroke:0.3px #000;transform:scaleX(1.12);transform-origin:50% 50%;">1</div>
<div class="t" style="left:769.93px;top:364.00px;font-size:13px;line-height:13px;color:#000;-webkit-text-stroke:0.3px #000;transform:scaleX(1.12);transform-origin:50% 50%;">3</div>
<div class="t" style="left:780.13px;top:366.00px;font-size:13px;line-height:13px;color:#000;-webkit-text-stroke:0.3px #000;transform:scaleX(1.12);transform-origin:50% 50%;">5</div>
<div class="t" style="left:163.08px;top:456.00px;font-size:20px;line-height:20px;color:#e15759;font-weight:bold;transform:scaleX(0.9826);transform-origin:0 0;">Top 10 Total Vehicles by</div>
<div class="t" style="left:161.96px;top:483.00px;font-size:20px;line-height:20px;color:#e15759;font-weight:bold;letter-spacing:0.564px;">Make</div>
<div class="t" style="left:423.09px;top:456.00px;font-size:20px;line-height:20px;color:#e15759;font-weight:bold;transform:scaleX(0.9558);transform-origin:0 0;">Total Vehicles by CAFV</div>
<div class="t" style="left:421.96px;top:483.00px;font-size:20px;line-height:20px;color:#e15759;font-weight:bold;letter-spacing:0.215px;">Eligibility</div>
<div class="t" style="left:683.08px;top:456.00px;font-size:20px;line-height:20px;color:#e15759;font-weight:bold;transform:scaleX(0.9815);transform-origin:0 0;">Total Vehicles by</div>
<div class="t" style="left:681.96px;top:483.00px;font-size:20px;line-height:20px;color:#e15759;font-weight:bold;letter-spacing:0.420px;">Model</div>
<div class="b" style="left:283.3px;top:517px;width:0.8px;height:224px;background:#e6e6e6;"></div>
<svg style="left:280px;top:515px" width="70" height="226" viewBox="280 515 70 226">
<rect x="283.9" y="522.10" width="59.0" height="15.7" fill="#6fb867"/>
<rect x="283.9" y="544.22" width="10.0" height="15.7" fill="#6fb867"/>
<rect x="283.9" y="566.34" width="9.0" height="15.7" fill="#6fb867"/>
<rect x="283.9" y="588.46" width="4.9" height="15.7" fill="#6fb867"/>
<rect x="283.9" y="610.58" width="4.1" height="15.7" fill="#6fb867"/>
<rect x="283.9" y="632.70" width="4.1" height="15.7" fill="#6fb867"/>
<rect x="283.9" y="654.82" width="4.0" height="15.7" fill="#6fb867"/>
<rect x="283.9" y="676.94" width="3.2" height="15.7" fill="#6fb867"/>
<rect x="283.9" y="699.06" width="2.1" height="15.7" fill="#6fb867"/>
<rect x="283.9" y="721.18" width="2.1" height="15.7" fill="#6fb867"/>
</svg>
<div class="t" style="left:165.50px;top:523.00px;font-size:15.5px;line-height:16px;color:#636363;transform:scaleX(0.8722);transform-origin:0 0;">TESLA</div>
<div class="t" style="left:164.57px;top:545.00px;font-size:15.5px;line-height:16px;color:#636363;transform:scaleX(0.9679);transform-origin:0 0;">NISSAN</div>
<div class="t" style="left:165.10px;top:567.00px;font-size:15.5px;line-height:16px;color:#636363;transform:scaleX(0.8868);transform-origin:0 0;">CHEVROLET</div>
<div class="t" style="left:164.63px;top:589.00px;font-size:15.5px;line-height:16px;color:#636363;transform:scaleX(0.9165);transform-origin:0 0;">FORD</div>
<div class="t" style="left:164.53px;top:611.00px;font-size:15.5px;line-height:16px;color:#636363;letter-spacing:0.272px;">BMW</div>
<div class="t" style="left:164.59px;top:634.00px;font-size:15.5px;line-height:16px;color:#636363;transform:scaleX(0.9501);transform-origin:0 0;">KIA</div>
<div class="t" style="left:165.48px;top:656.00px;font-size:15.5px;line-height:16px;color:#636363;transform:scaleX(0.9157);transform-origin:0 0;">TOYOTA</div>
<div class="t" style="left:165.74px;top:678.00px;font-size:15.5px;line-height:16px;color:#636363;transform:scaleX(0.9193);transform-origin:0 0;">VOLKSWAGEN</div>
<div class="t" style="left:165.74px;top:700.00px;font-size:15.5px;line-height:16px;color:#636363;transform:scaleX(0.9155);transform-origin:0 0;">VOLVO</div>
<div class="t" style="left:165.59px;top:722.00px;font-size:15.5px;line-height:16px;color:#636363;transform:scaleX(0.8858);transform-origin:0 0;">JEEP</div>
<div class="b" style="left:283.5px;top:741px;width:125.5px;height:1.2px;background:#2df02d;"></div>
<div class="b" style="left:283px;top:740.8px;width:1.6px;height:1.6px;background:#000;"></div>
<div class="b" style="left:408px;top:740.8px;width:1.6px;height:1.6px;background:#000;"></div>
<div class="b" style="left:418.5px;top:741px;width:250px;height:1.2px;background:#2df02d;"></div>
<div class="b" style="left:418px;top:740.8px;width:1.8px;height:1.6px;background:#000;"></div>
<div class="b" style="left:668px;top:740.8px;width:1.6px;height:1.6px;background:#000;"></div>
<svg style="left:418px;top:517px" width="252" height="223" viewBox="418 517 252 223">
<path d="M542.90 554.60A75 75 0 0 1 560.00 702.63L554.07 677.31A49 49 0 0 0 542.90 580.60Z" fill="#3a8b4a"/>
<path d="M560.00 702.63A75 75 0 0 1 492.08 574.45L509.70 593.57A49 49 0 0 0 554.07 677.31Z" fill="#24693d"/>
<path d="M492.08 574.45A75 75 0 0 1 542.90 554.60L542.90 580.60A49 49 0 0 0 509.70 593.57Z" fill="#89cc7a"/>
</svg>
<div class="t" style="left:504.29px;top:564.00px;font-size:14px;line-height:14px;color:#111;letter-spacing:0.234px;-webkit-text-stroke:0.65px #111;">CAFV Eligibility Unknown</div>
<div class="t" style="left:504.29px;top:582.00px;font-size:14px;line-height:14px;color:#111;letter-spacing:0.181px;-webkit-text-stroke:0.65px #111;">69,697 : 46.34%</div>
<div class="t" style="left:417.60px;top:670.00px;font-size:14px;line-height:14px;color:#111;-webkit-text-stroke:0.65px #111;transform:scaleX(0.9902);transform-origin:0 0;">CAFV Eligible</div>
<div class="t" style="left:417.59px;top:688.00px;font-size:14px;line-height:14px;color:#111;letter-spacing:0.188px;-webkit-text-stroke:0.65px #111;">62,887 : 41.81%</div>
<div class="b" style="left:678px;top:519.2px;width:225px;height:24px;background:#00ffff;"></div>
<div class="b" style="left:677px;top:519px;width:226px;height:219.5px;overflow:hidden;">
<div class="t" style="left:6.93px;top:6.00px;font-size:15.5px;line-height:16px;color:#2e3b3b;letter-spacing:0.798px;">Model</div>
<div class="t" style="left:107.23px;top:6.00px;font-size:15.5px;line-height:16px;color:#2e3b3b;letter-spacing:0.553px;">Make</div>
<div class="t" style="left:207.34px;top:6.00px;font-size:15.5px;line-height:16px;color:#2e3b3b;transform:scaleX(0.9102);transform-origin:0 0;">EV</div>
<div class="t" style="left:7.11px;top:31.00px;font-size:15.5px;line-height:16px;color:#333;transform:scaleX(0.9346);transform-origin:0 0;">MODEL Y</div>
<div class="t" style="left:108.20px;top:31.00px;font-size:15.5px;line-height:16px;color:#666;transform:scaleX(0.8722);transform-origin:0 0;">TESLA</div>
<div class="t" style="left:207.19px;top:31.00px;font-size:15.5px;line-height:16px;color:#666;transform:scaleX(0.9499);transform-origin:0 0;">BE</div>
<div class="t" style="left:7.09px;top:56.00px;font-size:15.5px;line-height:16px;color:#333;transform:scaleX(0.9478);transform-origin:0 0;">MODEL 3</div>
<div class="t" style="left:108.20px;top:56.00px;font-size:15.5px;line-height:16px;color:#666;transform:scaleX(0.8722);transform-origin:0 0;">TESLA</div>
<div class="t" style="left:207.19px;top:56.00px;font-size:15.5px;line-height:16px;color:#666;transform:scaleX(0.9499);transform-origin:0 0;">BE</div>
<div class="t" style="left:7.15px;top:81.00px;font-size:15.5px;line-height:16px;color:#333;transform:scaleX(0.9031);transform-origin:0 0;">LEAF</div>
<div class="t" style="left:107.26px;top:81.00px;font-size:15.5px;line-height:16px;color:#666;transform:scaleX(0.9787);transform-origin:0 0;">NISSAN</div>
<div class="t" style="left:207.19px;top:81.00px;font-size:15.5px;line-height:16px;color:#666;transform:scaleX(0.9499);transform-origin:0 0;">BE</div>
<div class="t" style="left:7.13px;top:106.00px;font-size:15.5px;line-height:16px;color:#333;transform:scaleX(0.9240);transform-origin:0 0;">MODEL S</div>
<div class="t" style="left:108.20px;top:106.00px;font-size:15.5px;line-height:16px;color:#666;transform:scaleX(0.8722);transform-origin:0 0;">TESLA</div>
<div class="t" style="left:207.19px;top:106.00px;font-size:15.5px;line-height:16px;color:#666;transform:scaleX(0.9499);transform-origin:0 0;">BE</div>
<div class="t" style="left:7.14px;top:131.00px;font-size:15.5px;line-height:16px;color:#333;transform:scaleX(0.9107);transform-origin:0 0;">BOLT EV</div>
<div class="t" style="left:107.80px;top:131.00px;font-size:15.5px;line-height:16px;color:#666;transform:scaleX(0.8889);transform-origin:0 0;">CHEVROLET</div>
<div class="t" style="left:207.19px;top:131.00px;font-size:15.5px;line-height:16px;color:#666;transform:scaleX(0.9499);transform-origin:0 0;">BE</div>
<div class="t" style="left:7.12px;top:156.00px;font-size:15.5px;line-height:16px;color:#333;transform:scaleX(0.9246);transform-origin:0 0;">MODEL X</div>
<div class="t" style="left:108.20px;top:156.00px;font-size:15.5px;line-height:16px;color:#666;transform:scaleX(0.8722);transform-origin:0 0;">TESLA</div>
<div class="t" style="left:207.19px;top:156.00px;font-size:15.5px;line-height:16px;color:#666;transform:scaleX(0.9499);transform-origin:0 0;">BE</div>
<div class="t" style="left:8.24px;top:181.00px;font-size:15.5px;line-height:16px;color:#333;transform:scaleX(0.8995);transform-origin:0 0;">VOLT</div>
<div class="t" style="left:107.80px;top:181.00px;font-size:15.5px;line-height:16px;color:#666;transform:scaleX(0.8889);transform-origin:0 0;">CHEVROLET</div>
<div class="t" style="left:207.13px;top:181.00px;font-size:15.5px;line-height:16px;color:#666;">PH</div>
<div class="t" style="left:6.87px;top:203.00px;font-size:15.5px;line-height:16px;color:#333;letter-spacing:0.186px;">ID.4</div>
<div class="t" style="left:108.44px;top:203.00px;font-size:15.5px;line-height:16px;color:#666;transform:scaleX(0.9310);transform-origin:0 0;">VOLKSWAG..</div>
<div class="t" style="left:207.19px;top:203.00px;font-size:15.5px;line-height:16px;color:#666;transform:scaleX(0.9499);transform-origin:0 0;">BE</div>
</div>
<div class="b" style="left:677px;top:543.0px;width:227.5px;height:1px;background:#c6c6c6"></div>
<div class="b" style="left:677px;top:568.0px;width:227.5px;height:1px;background:#c6c6c6"></div>
<div class="b" style="left:677px;top:593.0px;width:227.5px;height:1px;background:#c6c6c6"></div>
<div class="b" style="left:677px;top:618.0px;width:227.5px;height:1px;background:#c6c6c6"></div>
<div class="b" style="left:677px;top:643.0px;width:227.5px;height:1px;background:#c6c6c6"></div>
<div class="b" style="left:677px;top:668.0px;width:227.5px;height:1px;background:#c6c6c6"></div>
<div class="b" style="left:677px;top:693.0px;width:227.5px;height:1px;background:#c6c6c6"></div>
<div class="b" style="left:677px;top:718.0px;width:227.5px;height:1px;background:#c6c6c6"></div>
<div class="b" style="left:677px;top:737.8px;width:227.5px;height:1px;background:#c6c6c6"></div>
<svg style="left:900px;top:540px" width="30" height="202" viewBox="900 540 30 202">
<rect x="905.1" y="543.9" width="20" height="193.6" fill="#fefefe" stroke="#ababab" stroke-width="1.6"/>
<rect x="905.9" y="544.7" width="18.4" height="11.3" fill="#efefef"/>
<rect x="905.9" y="556" width="18.4" height="1.1" fill="#ababab"/>
</svg>
</div></body></html>
